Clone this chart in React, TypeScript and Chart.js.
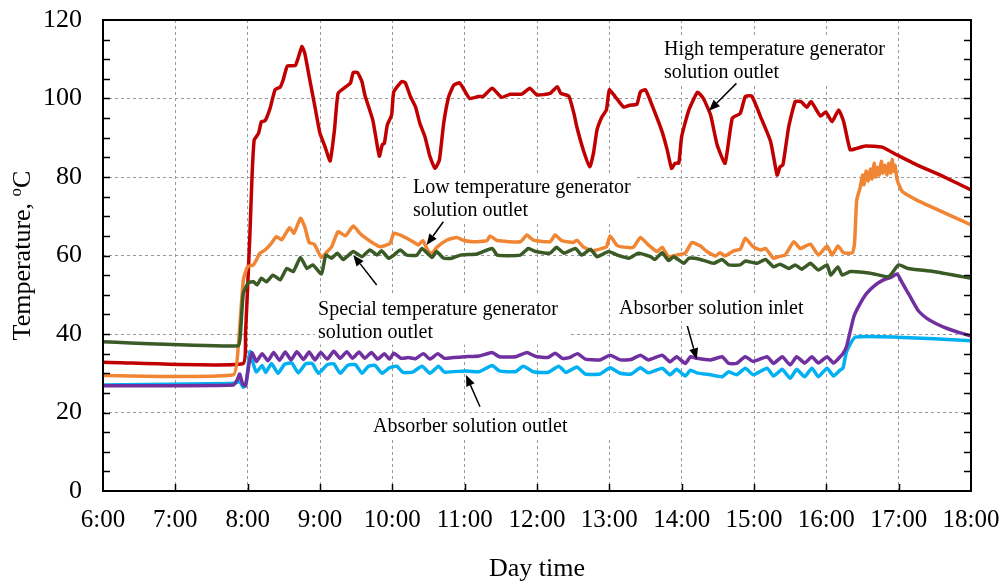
import React, { useEffect, useRef } from "react";
import { Chart, registerables } from "chart.js";

Chart.register(...registerables);

// ---- Data (time in decimal hours, temperature in °C) ----
const hourLabels = ["6:00", "7:00", "8:00", "9:00", "10:00", "11:00", "12:00", "13:00", "14:00", "15:00", "16:00", "17:00", "18:00"];
const yTicks = [0, 20, 40, 60, 80, 100, 120];

const highTime = [6.0, 7.93, 7.97, 8.03, 8.06, 8.09, 8.15, 8.19, 8.24, 8.31, 8.38, 8.45, 8.49, 8.55, 8.66, 8.75, 8.79, 8.85, 8.93, 9.0, 9.07, 9.14, 9.2, 9.25, 9.35, 9.42, 9.46, 9.52, 9.58, 9.62, 9.73, 9.82, 9.86, 9.89, 9.93, 9.99, 10.02, 10.13, 10.18, 10.25, 10.32, 10.38, 10.45, 10.52, 10.59, 10.65, 10.71, 10.78, 10.85, 10.93, 10.98, 11.07, 11.19, 11.26, 11.38, 11.51, 11.63, 11.79, 11.9, 12.0, 12.18, 12.28, 12.33, 12.44, 12.51, 12.55, 12.64, 12.73, 12.78, 12.83, 12.9, 12.96, 13.0, 13.08, 13.2, 13.28, 13.38, 13.43, 13.5, 13.59, 13.73, 13.8, 13.86, 13.91, 13.96, 14.0, 14.1, 14.22, 14.3, 14.4, 14.49, 14.6, 14.7, 14.81, 14.88, 14.97, 15.09, 15.23, 15.32, 15.36, 15.4, 15.48, 15.57, 15.65, 15.73, 15.79, 15.92, 15.99, 16.08, 16.17, 16.24, 16.33, 16.42, 16.54, 16.77, 16.98, 17.25, 17.62, 18.0];
const highTemp = [32.8, 32.4, 40, 65, 80, 89.4, 91.1, 94.1, 94.3, 97.5, 102.3, 102.9, 104.7, 108.3, 108.4, 113.2, 111.5, 105.6, 97.9, 91.1, 87.7, 84.1, 92.0, 101.3, 102.9, 103.9, 106.6, 106.6, 104.3, 100.9, 94.5, 85.3, 88.2, 88.6, 93.2, 95.8, 101.7, 104.3, 104.0, 100.5, 97.9, 93.7, 90.3, 85.2, 82.2, 84.3, 93.7, 100.5, 103.4, 104.0, 102.6, 100.0, 100.5, 100.6, 102.6, 100.3, 101.1, 101.1, 102.6, 100.9, 101.3, 103.0, 101.3, 100.6, 96.2, 92.8, 86.9, 82.6, 86.0, 92.0, 95.4, 97.1, 102.2, 100.5, 97.8, 98.3, 98.5, 101.7, 102.2, 98.3, 91.5, 86.9, 82.2, 83.5, 83.5, 90.3, 97.1, 101.6, 100.0, 95.8, 88.2, 83.5, 95.0, 96.2, 100.5, 100.6, 95.4, 89.0, 80.5, 82.6, 83.1, 92.8, 99.2, 99.2, 97.8, 99.2, 95.5, 96.6, 94.1, 97.1, 94.1, 86.9, 87.3, 87.9, 87.6, 85.6, 83.1, 80.1, 76.7];

const lowTime = [6.0, 7.8, 7.87, 7.94, 8.0, 8.08, 8.17, 8.24, 8.31, 8.4, 8.47, 8.58, 8.64, 8.73, 8.79, 8.85, 8.92, 9.02, 9.1, 9.16, 9.25, 9.35, 9.46, 9.55, 9.62, 9.72, 9.83, 9.97, 10.02, 10.11, 10.25, 10.36, 10.42, 10.5, 10.55, 10.61, 10.75, 10.89, 10.98, 11.12, 11.31, 11.35, 11.45, 11.77, 11.86, 11.95, 12.18, 12.25, 12.34, 12.5, 12.55, 12.64, 12.76, 12.9, 12.96, 13.01, 13.1, 13.17, 13.33, 13.43, 13.54, 13.66, 13.73, 13.82, 13.93, 14.05, 14.14, 14.26, 14.35, 14.47, 14.53, 14.6, 14.72, 14.81, 14.88, 14.99, 15.09, 15.16, 15.27, 15.34, 15.43, 15.55, 15.64, 15.78, 15.89, 16.01, 16.08, 16.16, 16.24, 16.36, 16.39, 16.42, 16.47, 16.5, 16.52, 16.55, 16.58, 16.61, 16.63, 16.66, 16.68, 16.71, 16.73, 16.76, 16.78, 16.81, 16.84, 16.86, 16.89, 16.91, 16.93, 16.95, 16.98, 17.05, 17.25, 18.0];
const lowTemp = [29.4, 29.6, 36.8, 53.8, 57.2, 57.6, 60.6, 61.4, 62.7, 64.8, 64.0, 67.1, 65.7, 69.5, 67.3, 63.3, 62.9, 59.5, 61.0, 62.2, 66.1, 65.0, 67.5, 65.7, 64.6, 63.3, 62.2, 63.1, 65.7, 65.2, 63.9, 62.7, 63.8, 61.0, 60.5, 62.0, 63.9, 64.6, 63.9, 63.5, 63.8, 65.0, 63.8, 63.5, 65.2, 63.9, 63.5, 65.2, 63.8, 63.3, 63.9, 62.2, 61.2, 61.8, 62.2, 65.0, 62.7, 62.2, 62.1, 64.6, 62.7, 61.0, 62.1, 59.7, 60.1, 60.6, 63.3, 62.4, 61.0, 59.9, 60.7, 59.9, 61.2, 61.6, 64.4, 62.2, 61.4, 61.8, 59.3, 59.7, 60.1, 63.5, 61.8, 62.9, 60.1, 62.4, 60.1, 62.4, 60.7, 60.7, 63.1, 74.1, 77.5, 80.5, 78.0, 81.5, 79.0, 82.0, 79.5, 83.5, 80.0, 82.5, 80.5, 84.0, 81.0, 83.0, 80.5, 83.5, 81.0, 84.5, 81.5, 83.0, 79.2, 76.3, 74.1, 67.8];

const specialTime = [6.0, 7.87, 7.9, 7.94, 8.01, 8.08, 8.13, 8.19, 8.26, 8.35, 8.45, 8.54, 8.63, 8.73, 8.82, 8.9, 9.02, 9.08, 9.16, 9.24, 9.32, 9.46, 9.58, 9.69, 9.79, 9.85, 9.95, 10.02, 10.11, 10.2, 10.34, 10.41, 10.55, 10.61, 10.71, 10.82, 10.94, 11.17, 11.38, 11.45, 11.77, 11.88, 11.98, 12.18, 12.27, 12.37, 12.53, 12.62, 12.74, 12.83, 12.99, 13.11, 13.27, 13.4, 13.57, 13.63, 13.73, 13.82, 13.89, 14.03, 14.1, 14.26, 14.44, 14.56, 14.65, 14.81, 14.88, 15.04, 15.16, 15.27, 15.36, 15.48, 15.57, 15.66, 15.78, 15.89, 16.01, 16.06, 16.16, 16.22, 16.33, 16.61, 16.86, 17.0, 17.13, 17.48, 18.0];
const specialTemp = [38.0, 37.0, 40.2, 50.4, 53.1, 53.3, 52.5, 54.2, 53.3, 55.0, 53.8, 56.7, 55.9, 59.5, 56.7, 57.6, 55.3, 60.1, 59.3, 60.6, 59.0, 61.0, 59.7, 61.4, 60.1, 61.2, 59.3, 60.1, 61.4, 60.1, 60.1, 61.8, 59.5, 61.0, 59.3, 59.3, 60.1, 60.4, 61.8, 60.1, 60.1, 61.8, 61.0, 60.6, 62.1, 60.6, 61.8, 60.1, 61.6, 59.7, 61.0, 60.1, 59.3, 60.6, 59.7, 59.0, 60.7, 58.7, 59.7, 58.0, 59.3, 59.0, 58.0, 59.0, 57.6, 57.6, 58.6, 58.0, 59.0, 57.1, 57.8, 56.7, 57.6, 56.5, 58.0, 56.3, 57.6, 55.0, 57.1, 55.0, 55.9, 55.5, 54.6, 57.6, 56.7, 55.9, 54.2];

const inletTime = [6.0, 7.8, 7.86, 7.89, 7.93, 7.97, 8.02, 8.06, 8.12, 8.2, 8.28, 8.36, 8.44, 8.52, 8.6, 8.68, 8.77, 8.85, 8.93, 9.01, 9.1, 9.19, 9.28, 9.37, 9.45, 9.54, 9.62, 9.71, 9.8, 9.89, 9.96, 10.02, 10.12, 10.22, 10.32, 10.43, 10.52, 10.63, 10.72, 10.85, 11.0, 11.2, 11.38, 11.48, 11.7, 11.86, 11.98, 12.15, 12.25, 12.35, 12.45, 12.56, 12.67, 12.87, 13.01, 13.15, 13.3, 13.43, 13.54, 13.73, 13.84, 13.93, 14.05, 14.12, 14.21, 14.4, 14.56, 14.65, 14.76, 14.88, 14.99, 15.18, 15.27, 15.39, 15.5, 15.59, 15.7, 15.8, 15.89, 16.01, 16.1, 16.19, 16.23, 16.28, 16.38, 16.46, 16.56, 16.68, 16.79, 16.9, 16.98, 17.05, 17.16, 17.27, 17.39, 17.52, 17.67, 17.85, 18.0];
const inletTemp = [26.8, 27.0, 28.5, 29.8, 27.3, 26.8, 32.5, 35.3, 33.0, 35.0, 33.2, 35.3, 33.3, 35.4, 33.4, 35.5, 33.5, 35.4, 33.4, 35.3, 33.6, 35.6, 33.8, 35.5, 33.8, 35.4, 33.8, 35.3, 33.6, 35.0, 33.6, 35.1, 33.8, 34.0, 33.7, 35.0, 33.6, 35.0, 33.8, 34.0, 34.2, 34.4, 35.3, 34.2, 34.2, 35.3, 34.3, 34.0, 35.1, 33.8, 34.0, 35.0, 33.6, 33.4, 34.6, 33.4, 33.5, 34.6, 33.4, 34.6, 32.9, 34.2, 32.5, 34.2, 33.8, 33.4, 34.2, 32.5, 32.5, 34.2, 33.0, 34.2, 32.5, 34.2, 32.1, 34.2, 32.6, 34.2, 32.6, 34.2, 32.6, 34.2, 35.0, 36.8, 44.4, 47.5, 50.4, 52.5, 53.8, 54.5, 55.3, 53.0, 49.5, 46.0, 44.0, 42.6, 41.4, 40.3, 39.5];

const outletTime = [6.0, 7.76, 7.85, 7.89, 7.94, 7.98, 8.03, 8.06, 8.12, 8.2, 8.25, 8.33, 8.42, 8.51, 8.61, 8.7, 8.8, 8.89, 8.98, 9.1, 9.19, 9.28, 9.38, 9.49, 9.58, 9.67, 9.76, 9.86, 9.96, 10.06, 10.15, 10.28, 10.41, 10.52, 10.64, 10.72, 11.0, 11.2, 11.38, 11.48, 11.7, 11.81, 11.95, 12.15, 12.3, 12.4, 12.55, 12.67, 12.87, 13.01, 13.15, 13.3, 13.43, 13.54, 13.73, 13.84, 13.93, 14.05, 14.12, 14.21, 14.4, 14.56, 14.65, 14.76, 14.88, 14.99, 15.18, 15.27, 15.39, 15.5, 15.59, 15.7, 15.8, 15.89, 16.01, 16.1, 16.19, 16.23, 16.28, 16.4, 16.98, 18.0];
const outletTemp = [27.0, 27.4, 27.6, 28.0, 26.4, 27.5, 35.5, 33.5, 30.3, 32.0, 30.2, 32.5, 30.0, 32.3, 32.6, 30.1, 32.4, 32.5, 30.0, 32.2, 32.4, 30.0, 32.0, 32.2, 30.0, 31.8, 32.0, 30.0, 31.4, 31.8, 30.2, 30.3, 31.8, 30.0, 31.8, 30.3, 30.6, 30.4, 32.0, 30.6, 30.4, 31.8, 30.4, 30.2, 31.8, 30.2, 31.6, 29.8, 29.8, 31.4, 30.0, 29.8, 31.4, 30.1, 31.3, 29.6, 31.0, 29.3, 30.8, 30.1, 29.6, 29.1, 30.4, 29.6, 31.3, 29.6, 31.3, 29.3, 31.0, 28.7, 31.0, 29.1, 31.3, 29.1, 31.3, 29.3, 30.8, 31.3, 35.5, 39.2, 39.2, 38.3];

// ---- Annotations (anchor in data units: hours, °C) ----
const annotations = [
  { lines: ["High temperature generator", "solution outlet"], x: 13.756, y: 111.08, padL: 6, padR: 6 },
  { lines: ["Low temperature generator", "solution outlet"], x: 10.286, y: 75.85, padL: 4, padR: 6 },
  { lines: ["Special temperature generator", "solution outlet"], x: 8.973, y: 44.84, padL: 3, padR: 12 },
  { lines: ["Absorber solution inlet"], x: 13.134, y: 45.1, padL: 4, padR: 6 },
  { lines: ["Absorber solution outlet"], x: 9.733, y: 15.11, padL: 16, padR: 55 },
];
const arrows = [
  { from: [14.757, 103.85], to: [14.378, 96.87] },
  { from: [10.705, 68.61], to: [10.474, 62.68] },
  { from: [9.784, 52.48], to: [9.46, 60.13] },
  { from: [14.078, 42.04], to: [14.208, 33.55] },
  { from: [11.212, 21.48], to: [11.019, 29.55] },
];

const pts = (t: number[], v: number[]) => t.map((x, i) => ({ x, y: v[i] }));

const SERIF = '"Liberation Serif", "Times New Roman", serif';

const decorPlugin = {
  id: "decor",
  beforeDatasetsDraw(chart: any) {
    const { ctx, scales } = chart;
    const xs = scales.x, ys = scales.y;
    ctx.save();
    ctx.font = `20px ${SERIF}`;
    ctx.textBaseline = "alphabetic";
    ctx.textAlign = "left";
    const lh = 22.5;
    annotations.forEach((a) => {
      const px = xs.getPixelForValue(a.x);
      const py = ys.getPixelForValue(a.y);
      const w = Math.max(...a.lines.map((l) => ctx.measureText(l).width));
      ctx.fillStyle = "#ffffff";
      ctx.fillRect(px - a.padL, py - 19, w + a.padL + a.padR, (a.lines.length - 1) * lh + 26);
    });
    ctx.fillStyle = "#000000";
    annotations.forEach((a) => {
      const px = xs.getPixelForValue(a.x);
      const py = ys.getPixelForValue(a.y);
      a.lines.forEach((l, i) => ctx.fillText(l, px, py + i * lh));
    });
    ctx.restore();
  },
  afterDatasetsDraw(chart: any) {
    const { ctx, scales, chartArea } = chart;
    const xs = scales.x, ys = scales.y;
    ctx.save();
    // arrows
    ctx.strokeStyle = "#000";
    ctx.fillStyle = "#000";
    ctx.lineWidth = 1.5;
    arrows.forEach((a) => {
      const x1 = xs.getPixelForValue(a.from[0]);
      const y1 = ys.getPixelForValue(a.from[1]);
      const x2 = xs.getPixelForValue(a.to[0]);
      const y2 = ys.getPixelForValue(a.to[1]);
      const ang = Math.atan2(y2 - y1, x2 - x1);
      const hl = 11, hw = 4.5;
      const bx = x2 - hl * Math.cos(ang), by = y2 - hl * Math.sin(ang);
      ctx.beginPath();
      ctx.moveTo(x1, y1);
      ctx.lineTo(bx, by);
      ctx.stroke();
      ctx.beginPath();
      ctx.moveTo(x2, y2);
      ctx.lineTo(bx + hw * Math.sin(ang), by - hw * Math.cos(ang));
      ctx.lineTo(bx - hw * Math.sin(ang), by + hw * Math.cos(ang));
      ctx.closePath();
      ctx.fill();
    });
    // frame
    const { left, right, top, bottom } = chartArea;
    ctx.lineWidth = 2;
    ctx.strokeRect(left, top, right - left, bottom - top);
    // inward ticks
    ctx.lineWidth = 1.5;
    ctx.beginPath();
    for (let v = 5; v < 120; v += 5) {
      const y = Math.round(ys.getPixelForValue(v)) + 0.5;
      ctx.moveTo(left, y); ctx.lineTo(left + 7, y);
      ctx.moveTo(right, y); ctx.lineTo(right - 7, y);
    }
    for (let h = 7; h < 18; h++) {
      const x = Math.round(xs.getPixelForValue(h)) + 0.5;
      ctx.moveTo(x, bottom); ctx.lineTo(x, bottom - 7);
    }
    ctx.stroke();
    // axis titles
    ctx.fillStyle = "#000";
    ctx.font = `26px ${SERIF}`;
    ctx.textAlign = "center";
    ctx.textBaseline = "alphabetic";
    ctx.fillText("Day time", (left + right) / 2, 576);
    ctx.save();
    ctx.translate(30, (top + bottom) / 2);
    ctx.rotate(-Math.PI / 2);
    ctx.textAlign = "left";
    const t1 = "Temperature, ";
    ctx.font = `26px ${SERIF}`;
    const w1 = ctx.measureText(t1).width;
    const wc = ctx.measureText("C").width;
    ctx.font = `17px ${SERIF}`;
    const wo = ctx.measureText("o").width;
    const total = w1 + wo + wc;
    let sx = -total / 2;
    ctx.font = `26px ${SERIF}`;
    ctx.fillText(t1, sx, 0);
    sx += w1;
    ctx.font = `17px ${SERIF}`;
    ctx.fillText("o", sx, -9);
    sx += wo;
    ctx.font = `26px ${SERIF}`;
    ctx.fillText("C", sx, 0);
    ctx.restore();
    ctx.restore();
  },
};

export default function App() {
  const ref = useRef<HTMLCanvasElement | null>(null);
  useEffect(() => {
    if (!ref.current) return;
    const gridColor = (edgeA: number, edgeB: number) => (c: any) =>
      c.tick && (c.tick.value === edgeA || c.tick.value === edgeB) ? "rgba(0,0,0,0)" : "#9a9a9a";
    const chart = new Chart(ref.current, {
      type: "line",
      data: {
        datasets: [
          { label: "Special temperature generator solution outlet", data: pts(specialTime, specialTemp), borderColor: "#3a5a26", borderWidth: 3.5 },
          { label: "Low temperature generator solution outlet", data: pts(lowTime, lowTemp), borderColor: "#f08533", borderWidth: 3.5 },
          { label: "High temperature generator solution outlet", data: pts(highTime, highTemp), borderColor: "#c00000", borderWidth: 3.5 },
          { label: "Absorber solution inlet", data: pts(inletTime, inletTemp), borderColor: "#7030a0", borderWidth: 3.5 },
          { label: "Absorber solution outlet", data: pts(outletTime, outletTemp), borderColor: "#00b0f0", borderWidth: 3.5 },
        ],
      },
      options: {
        responsive: false,
        animation: false,
        devicePixelRatio: 1,
        elements: { point: { radius: 0 }, line: { tension: 0.15, borderJoinStyle: "round", borderCapStyle: "round" } },
        layout: { padding: { top: 20, right: 32, left: 0, bottom: 0 } },
        plugins: { legend: { display: false }, tooltip: { enabled: false } },
        scales: {
          x: {
            type: "linear",
            min: 6,
            max: 18,
            afterFit: (s: any) => { s.height = 93; s.paddingLeft = 0; s.paddingRight = 0; },
            afterBuildTicks: (s: any) => { s.ticks = hourLabels.map((_, i) => ({ value: 6 + i })); },
            ticks: {
              callback: (v: any) => hourLabels[Math.round(Number(v)) - 6],
              font: { family: SERIF, size: 25 },
              color: "#000",
              padding: 14,
              maxRotation: 0,
              autoSkip: false,
            },
            grid: { color: gridColor(6, 18), lineWidth: 1, drawTicks: false },
            border: { display: false, dash: [3, 3] },
          },
          y: {
            type: "linear",
            min: 0,
            max: 120,
            afterFit: (s: any) => { s.width = 103; s.paddingTop = 0; s.paddingBottom = 0; },
            afterBuildTicks: (s: any) => { s.ticks = yTicks.map((v) => ({ value: v })); },
            ticks: {
              font: { family: SERIF, size: 26 },
              color: "#000",
              padding: 21,
            },
            grid: { color: gridColor(0, 120), lineWidth: 1, drawTicks: false },
            border: { display: false, dash: [3, 3] },
          },
        },
      },
      plugins: [decorPlugin],
    } as any);
    return () => chart.destroy();
  }, []);
  return (
    <div style={{ position: "fixed", left: 0, top: 0, width: 1003, height: 584, background: "#fff" }}>
      <canvas ref={ref} width={1003} height={584} style={{ display: "block" }} />
    </div>
  );
}
